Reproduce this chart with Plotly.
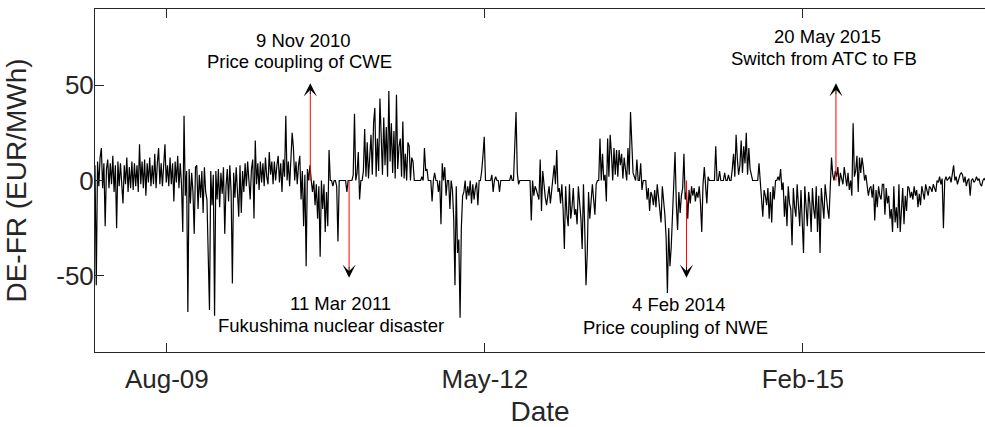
import pandas as pd
import plotly.graph_objects as go

# ---------------- data ----------------
start_date = "2009-01-01"
step_days = 4

spread = [
    8, -55, 10, -3, 12, 17, -4, 9, -24, 6,
    11, -4, 9, -2, 13, -6, 8, -25, 10, -3,
    9, -5, -12, 8, -2, 12, -6, 7, -4, 10,
    -5, 9, -3, 8, -6, 19, -2, 10, -4, 11,
    -8, 9, -1, 12, -3, 8, -2, 14, -4, 9,
    17, -2, 9, -3, 11, 19, -1, 8, -3, 12,
    -2, 9, -11, 10, -1, 13, -4, 9, -2, -27,
    34, -8, 5, -69, 6, -12, 4, -6, -28, 7,
    8, -15, 3, -9, 5, -17, 7, -6, -10, -34,
    -68, 5, -13, 3, -71, 5, -10, 6, -14, 4,
    -7, 7, -28, -3, 6, -11, 8, -6, -54, 4,
    -9, 7, -4, -19, 8, -17, 5, -6, 9, -3,
    10, -4, -10, 6, 11, -20, 21, -2, 9, -5,
    10, -1, 9, -3, 12, 2, -2, 15, 3, 10,
    -2, 10, 0, 8, 13, -1, 9, -6, 11, 2,
    34, 0, 10, -3, 8, 25, 17, 0, 10, -2,
    8, 13, -10, 5, -24, 3, -45, 6, 0, 8,
    0, -6, 0, -13, -2, -20, -3, -40, 0, -15,
    -2, -27, -6, -24, 16, 0, 0, -3, 0, 0,
    -3, -32, 0, 0, 0, 0, 0, 0, -6, 0,
    0, 0, 0, 3, 35, 0, 4, 15, -10, 0,
    0, 5, 27, 2, 20, 1, 12, 24, 3, 30,
    38, 2, 22, 5, 43, 25, 3, 33, 8, 28,
    2, 47, 10, 30, 4, 26, 1, 45, 6, 18,
    22, 2, 31, 1, 14, 0, 20, 18, 0, 12,
    10, 0, 0, 0, 0, 0, 0, 2, 0, 17,
    5, 6, 0, 0, 0, -11, 0, 4, 0, 0,
    -6, 0, -23, 9, 0, 7, -8, 0, 0, -15,
    0, -5, -20, -55, -3, -38, -31, -72, -25, -8,
    -6, 0, -10, -3, -8, 0, -12, -2, -10, -4,
    -1, -13, 0, 0, 5, 13, 23, 0, 0, 0,
    0, 0, 3, -6, 0, 2, 0, 0, -6, 0,
    0, 0, 0, 0, 0, 0, 0, 3, 0, 0,
    24, 36, 4, -2, 0, 0, 0, 0, 0, 0,
    0, 0, 0, -21, 0, -8, -3, -5, -8, -10,
    11, -16, 5, -4, -9, -13, -6, -3, -12, -5,
    0, 8, -2, 16, -6, -4, -12, -2, -15, -36,
    -3, -18, -24, -2, -20, -14, -4, -18, -15, -23,
    -3, -12, -20, -36, -2, -25, -55, -38, -6, -20,
    -13, -2, -10, -18, -2, 0, 0, 22, 0, 14,
    0, 3, -11, 22, 2, 24, 14, 0, 17, 3,
    16, 2, 16, 8, 14, 1, 12, 5, 0, 17,
    3, 36, 22, 4, 2, 0, 11, 0, 0, 9,
    -5, 0, 0, 0, -10, -4, -16, -6, -8, -13,
    -5, -14, -2, -9, -12, -22, -3, -10, -18, -30,
    -59, -25, -45, -35, -16, -8, 15, -12, -26, -6,
    -17, -8, -4, 14, -10, -6, -20, -5, -12, -3,
    -8, -4, -11, -6, -9, -3, -12, -27, -2, 7,
    -5, -12, 2, 0, 0, 0, 0, 0, 18, 0,
    0, 5, 0, 0, 0, 4, 0, 0, 3, 0,
    0, 6, 14, 2, 24, 11, 3, 8, 21, 4,
    18, 9, 25, 3, 17, 6, 2, 0, 0, 0,
    0, 0, 9, 0, -12, -19, -5, -8, -13, -4,
    -20, -6, -22, -3, -10, 0, 0, 2, 0, 6,
    -5, -1, -19, -8, -24, -3, -12, -15, -34, -4,
    -14, -19, -2, -16, -24, -5, -20, -38, -3, -16,
    -24, -6, -12, -27, -4, -15, -20, -3, -27, -8,
    -38, -4, -14, -20, -2, -11, -15, -20, -6, 12,
    3, 0, 5, 2, 7, -3, 4, 1, -2, 7,
    2, -3, 4, -5, 0, -8, 30, 2, 5, 13,
    -6, 12, 4, 12, 7, 0, 3, -2, -8, -4,
    -3, -9, -2, -21, -5, -14, -3, -8, -10, -2,
    -2, -18, -4, -12, -8, -20, -15, -27, -3, -22,
    -14, -25, -2, -27, -18, -4, -23, -8, -16, -3,
    -4, -9, -6, -10, -3, -8, -5, -14, -7, -13,
    -3, -6, -10, -2, -5, -8, -3, -4, -6, -2,
    -4, -6, 0, -1, 2, -2, 1, -25, 0, 2,
    0, 1, 2, -1, 3, 8, 0, 2, -2, 1,
    3, 4, 3, -1, 2, -3, 0, 1, -8, 0,
    1, -1, 0, 2, 0, 1, -2, -3, 0, 1, 0,
]

x_range = ["2009-01-01", "2016-08-30 17:00"]
y_range = [-90, 90]
y_ticks = [-50, 0, 50]
y_tick_labels = ["-50", "0", "50"]

tick_dates = ["2009-08-15", "2012-05-11", "2015-02-05"]
tick_labels = ["Aug-09", "May-12", "Feb-15"]

event_dates = ["2010-11-09", "2011-03-11", "2014-02-04", "2015-05-20"]
event_titles = ["9 Nov 2010", "11 Mar 2011", "4 Feb 2014", "20 May 2015"]
event_texts = ["Price coupling of CWE", "Fukushima nuclear disaster",
               "Price coupling of NWE", "Switch from ATC to FB"]
event_tips = [51, -51, -51, 51]

# ---------------- layout helpers (positions only) ----------------
label_pos = [
    dict(y1=73.5, y2=62.7, dx1=-6.6, dx2=-10.8),
    dict(y1=-64.8, y2=-76.2, dx1=-8.6, dx2=-18.3),
    dict(y1=-65.1, y2=-77.1, dx1=-7.3, dx2=-11.2),
    dict(y1=75.8, y2=64.1, dx1=-8.4, dx2=-11.9),
]

FONT = "Liberation Sans, Arial, Helvetica, sans-serif"
AX = "#262626"

dates = pd.date_range(start_date, periods=len(spread), freq=f"{step_days}D")

fig = go.Figure()
fig.add_trace(go.Scatter(
    x=dates, y=spread, mode="lines",
    line=dict(color="black", width=1.2),
    showlegend=False, hoverinfo="skip",
))

shapes = []
annotations = []
for d, t1, t2, tip, lp in zip(event_dates, event_titles, event_texts, event_tips, label_pos):
    shapes.append(dict(type="line", xref="x", yref="y", x0=d, x1=d, y0=0, y1=tip * 0.9,
                       line=dict(color="#ff0000", width=1), layer="above"))
    annotations.append(dict(x=d, y=tip, xref="x", yref="y", text="", showarrow=True,
                            arrowhead=3, arrowsize=2.2, arrowwidth=1, arrowcolor="black",
                            ax=0, ay=12 if tip > 0 else -12, standoff=0))
    annotations.append(dict(x=d, y=lp["y1"], xref="x", yref="y", text=t1, showarrow=False,
                            xshift=lp["dx1"], xanchor="center", yanchor="middle",
                            font=dict(family=FONT, size=18.5, color="black")))
    annotations.append(dict(x=d, y=lp["y2"], xref="x", yref="y", text=t2, showarrow=False,
                            xshift=lp["dx2"], xanchor="center", yanchor="middle",
                            font=dict(family=FONT, size=18.5, color="black")))

fig.update_layout(
    width=985, height=427,
    margin=dict(l=95, r=0, t=9, b=75),
    paper_bgcolor="white", plot_bgcolor="white",
    font=dict(family=FONT, color=AX),
    shapes=shapes, annotations=annotations,
    xaxis=dict(
        type="date", range=x_range,
        tickmode="array", tickvals=tick_dates, ticktext=tick_labels,
        ticks="inside", ticklen=9, tickwidth=1, tickcolor=AX,
        showline=True, linecolor=AX, linewidth=1, mirror="allticks",
        showgrid=False, zeroline=False,
        tickfont=dict(family=FONT, size=26, color=AX),
        ticklabelstandoff=4,
        title=dict(text="Date", font=dict(family=FONT, size=28, color=AX), standoff=15),
        automargin=False,
    ),
    yaxis=dict(
        range=y_range, tickmode="array", tickvals=y_ticks, ticktext=y_tick_labels,
        ticks="inside", ticklen=9, tickwidth=1, tickcolor=AX,
        showline=True, linecolor=AX, linewidth=1, mirror=False,
        showgrid=False, zeroline=False,
        tickfont=dict(family=FONT, size=26, color=AX),
        ticklabelstandoff=-5,
        title=dict(text="DE-FR (EUR/MWh)", font=dict(family=FONT, size=28, color=AX), standoff=21),
        automargin=False,
    ),
)

# page chrome: remove the default body margin so the 985x427 figure fills the window
page_css = ("document.documentElement.style.overflow='hidden';"
            "document.body.style.margin='0';"
            "document.body.style.overflow='hidden';")

fig.write_html("out.html", post_script=page_css,
               config={"staticPlot": True, "displayModeBar": False})
